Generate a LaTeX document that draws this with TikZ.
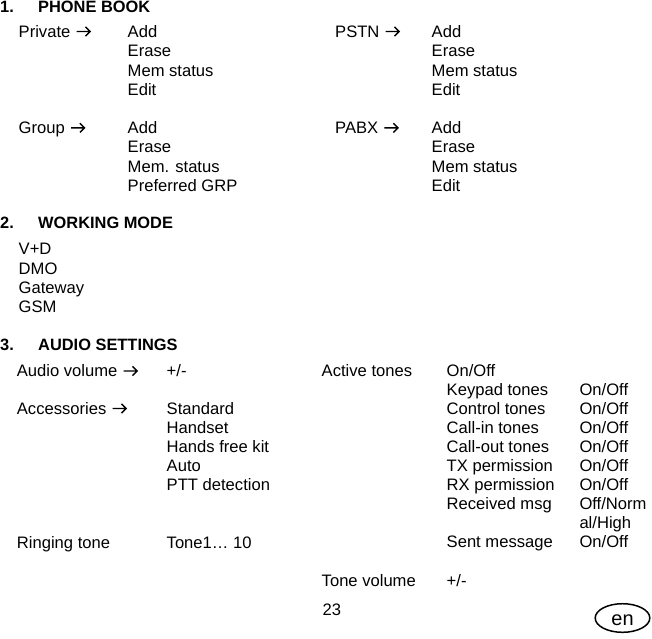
\documentclass[tikz,border=0pt]{standalone}
\usepackage{fontspec}
\setmainfont{Liberation Sans}
\usetikzlibrary{shapes.geometric}
\begin{document}
\begin{tikzpicture}[x=1pt,y=-1pt,
  t/.style={anchor=base west,inner sep=0pt,font=\fontsize{16.6}{19.3}\selectfont},
  h/.style={t,font=\fontsize{16.4}{19.3}\selectfont\bfseries},
  arrglyph/.style={draw=black,line width=1.4pt,line cap=butt,line join=miter},
  badge/.style={draw=black,line width=1.5pt}]
\useasboundingbox[fill=white] (0,0) rectangle (652,638);
\newcommand{\arrafter}[1]{\path[arrglyph] ([shift={(6,-5.5)}]#1.base east) -- ++(13.5,0) ++(-4.6,-4.6) -- ++(4.6,4.6) -- ++(-4.6,4.6);}
% Section 1
\node[h] (n1) at (0,12.3) {1.};
\node[h] (pb) at (38,12.3) {PHONE BOOK};
\node[t] (priv) at (18.5,37) {Private};
\node[t] (pa1) at (127.5,37) {Add};
\node[t] (pa2) at (127.5,56.5) {Erase};
\node[t] (pa3) at (127.5,76) {Mem status};
\node[t] (pa4) at (127.5,95.3) {Edit};
\node[t] (pstn) at (335,37) {PSTN};
\node[t] (ps1) at (431.5,37) {Add};
\node[t] (ps2) at (431.5,56.5) {Erase};
\node[t] (ps3) at (431.5,76) {Mem status};
\node[t] (ps4) at (431.5,95.3) {Edit};
\node[t] (grp) at (18.5,133.3) {Group};
\node[t] (g1) at (127.5,133.3) {Add};
\node[t] (g2) at (127.5,152.6) {Erase};
\node[t] (g3) at (127.5,172) {Mem. status};
\node[t] (g4) at (127.5,191.3) {Preferred GRP};
\node[t] (pabx) at (335,133.3) {PABX};
\node[t] (pb1) at (431.5,133.3) {Add};
\node[t] (pb2) at (431.5,152.6) {Erase};
\node[t] (pb3) at (431.5,172) {Mem status};
\node[t] (pb4) at (431.5,191.3) {Edit};
% Section 2
\node[h] (n2) at (0,228.3) {2.};
\node[h] (wm) at (38,228.3) {WORKING MODE};
\node[t] (w1) at (18.5,254.5) {V+D};
\node[t] (w2) at (18.5,274) {DMO};
\node[t] (w3) at (18.5,293.2) {Gateway};
\node[t] (w4) at (18.5,312.4) {GSM};
% Section 3
\node[h] (n3) at (0,350) {3.};
\node[h] (as) at (38,350) {AUDIO SETTINGS};
\node[t] (av) at (16.7,376.5) {Audio volume};
\node[t] (avv) at (166.5,376.5) {+/-};
\node[t] (acc) at (16.7,414) {Accessories};
\node[t] (ac1) at (166.5,414) {Standard};
\node[t] (ac2) at (166.5,433.3) {Handset};
\node[t] (ac3) at (166.5,452.4) {Hands free kit};
\node[t] (ac4) at (166.5,471) {Auto};
\node[t] (ac5) at (166.5,490) {PTT detection};
\node[t] (rt) at (16.7,548) {Ringing tone};
\node[t] (rtv) at (166.5,548) {Tone1… 10};
\node[t] (at) at (321.5,376.5) {Active tones};
\node[t] (at0) at (446.5,376.5) {On/Off};
\node[t] (k1) at (446.5,395.2) {Keypad tones};
\node[t] (k2) at (446.5,414.3) {Control tones};
\node[t] (k3) at (446.5,433.2) {Call-in tones};
\node[t] (k4) at (446.5,452.2) {Call-out tones};
\node[t] (k5) at (446.5,471.2) {TX permission};
\node[t] (k6) at (446.5,490.3) {RX permission};
\node[t] (k7) at (446.5,509.2) {Received msg};
\node[t] (k8) at (446.5,547.6) {Sent message};
\node[t] (v1) at (579.3,395.2) {On/Off};
\node[t] (v2) at (579.3,414.3) {On/Off};
\node[t] (v3) at (579.3,433.2) {On/Off};
\node[t] (v4) at (579.3,452.2) {On/Off};
\node[t] (v5) at (579.3,471.2) {On/Off};
\node[t] (v6) at (579.3,490.3) {On/Off};
\node[t] (v7) at (579.3,509.2) {Off/Norm};
\node[t] (v7b) at (579.3,528.4) {al/High};
\node[t] (v8) at (579.3,547.6) {On/Off};
\node[t] (tv) at (321.5,586) {Tone volume};
\node[t] (tvv) at (446.5,586) {+/-};
\node[t] (pg) at (322.5,615.7) {23};
% arrow glyphs
\arrafter{priv}
\arrafter{pstn}
\arrafter{grp}
\arrafter{pabx}
\arrafter{av}
\arrafter{acc}
% language badge
\node[inner sep=0pt,text height=15pt,text depth=0pt,font=\fontsize{20}{22}\selectfont] (en) at (622.5,618) {en};
\path[badge] (en.center) ellipse [x radius=27.3, y radius=14.3];
\end{tikzpicture}
\end{document}
